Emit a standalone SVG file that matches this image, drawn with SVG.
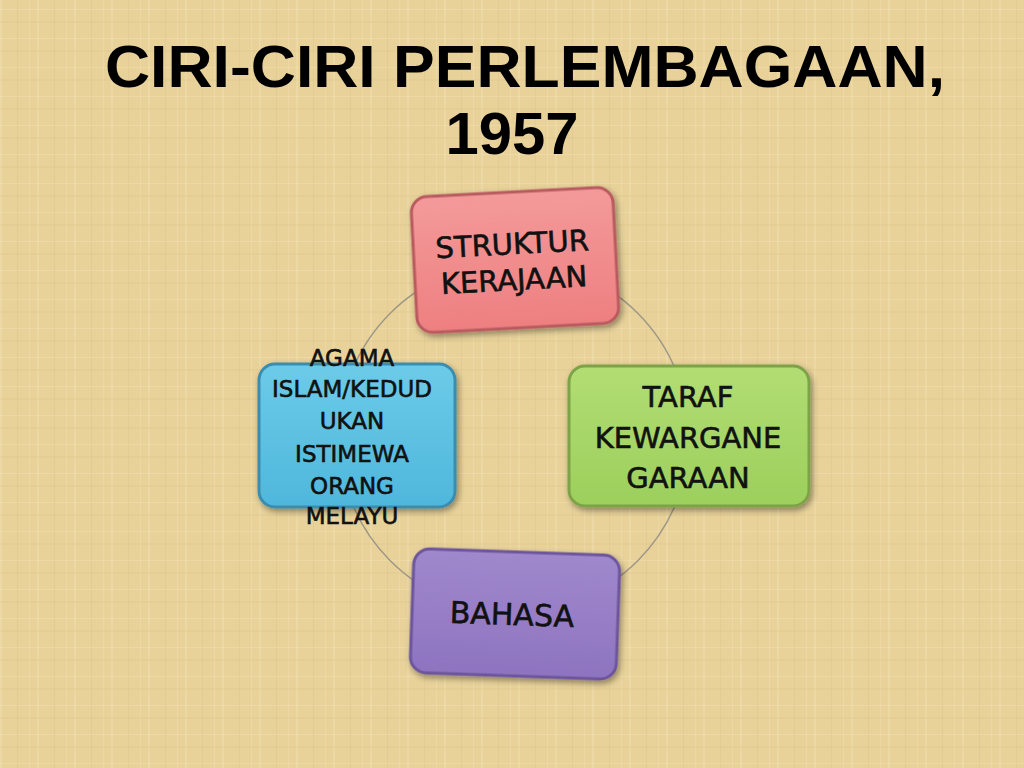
<svg xmlns="http://www.w3.org/2000/svg" width="1024" height="768" viewBox="0 0 1024 768">
<style>
.title{font-family:"Liberation Sans","DejaVu Sans",sans-serif;font-weight:bold;fill:#000}
.lbl{font-family:"DejaVu Sans","Liberation Sans",sans-serif;fill:#111;stroke:#111;stroke-width:0.6;text-anchor:middle}
.box{stroke-width:3}
</style>
<defs>
<pattern id="tex" width="37" height="29" patternUnits="userSpaceOnUse">
<rect width="37" height="29" fill="#E8D29A"/>
<rect x="0" y="0" width="2" height="29" fill="#F0DEAE" opacity="0.5"/>
<rect x="17" y="0" width="1" height="29" fill="#D9C086" opacity="0.35"/>
<rect x="29" y="0" width="1" height="29" fill="#F2E2B4" opacity="0.4"/>
<rect x="0" y="9" width="37" height="1" fill="#F2E2B4" opacity="0.45"/>
<rect x="0" y="21" width="37" height="2" fill="#DCC48A" opacity="0.3"/>
</pattern>
<linearGradient id="gPink" x1="0" y1="0" x2="0" y2="1"><stop offset="0" stop-color="#F49A9A"/><stop offset="1" stop-color="#EE7F80"/></linearGradient>
<linearGradient id="gBlue" x1="0" y1="0" x2="0" y2="1"><stop offset="0" stop-color="#6CCBE8"/><stop offset="1" stop-color="#4FB7DC"/></linearGradient>
<linearGradient id="gGreen" x1="0" y1="0" x2="0" y2="1"><stop offset="0" stop-color="#B2DD74"/><stop offset="1" stop-color="#9CCF5C"/></linearGradient>
<linearGradient id="gPurple" x1="0" y1="0" x2="0" y2="1"><stop offset="0" stop-color="#A088CC"/><stop offset="1" stop-color="#8E74C0"/></linearGradient>
<filter id="sh" x="-10%" y="-10%" width="125%" height="130%"><feDropShadow dx="2" dy="3" stdDeviation="3" flood-color="#000" flood-opacity="0.4"/></filter>
</defs>
<rect width="1024" height="768" fill="url(#tex)"/>
<text class="title" x="525" y="87" font-size="60" text-anchor="middle" textLength="840" lengthAdjust="spacingAndGlyphs">CIRI-CIRI PERLEMBAGAAN,</text>
<text class="title" x="512" y="154" font-size="60" text-anchor="middle" textLength="133" lengthAdjust="spacingAndGlyphs">1957</text>
<g id="connectors">
<circle cx="514" cy="437" r="175" fill="none" stroke="#9E9888" stroke-width="1.5"/>
</g>
<g id="node-struktur" transform="rotate(-3 515 260)">
<rect class="box" x="414" y="192" width="202" height="136" rx="16" fill="url(#gPink)" stroke="#B85A5E" filter="url(#sh)"/>
<text class="lbl" x="513" y="254" font-size="29">STRUKTUR</text>
<text class="lbl" x="513" y="290" font-size="29">KERAJAAN</text>
</g>
<g id="node-agama">
<rect class="box" x="259" y="364" width="196" height="143" rx="16" fill="url(#gBlue)" stroke="#3A8DB0" filter="url(#sh)"/>
<text class="lbl" x="352" y="366" font-size="23">AGAMA</text>
<text class="lbl" x="352" y="397" font-size="23">ISLAM/KEDUD</text>
<text class="lbl" x="352" y="429" font-size="23">UKAN</text>
<text class="lbl" x="352" y="462" font-size="23">ISTIMEWA</text>
<text class="lbl" x="352" y="494" font-size="23">ORANG</text>
<text class="lbl" x="352" y="524" font-size="23">MELAYU</text>
</g>
<g id="node-taraf">
<rect class="box" x="569" y="366" width="240" height="140" rx="16" fill="url(#gGreen)" stroke="#7DA246" filter="url(#sh)"/>
<text class="lbl" x="688" y="407" font-size="29">TARAF</text>
<text class="lbl" x="688" y="448" font-size="29">KEWARGANE</text>
<text class="lbl" x="688" y="488" font-size="29">GARAAN</text>
</g>
<g id="node-bahasa" transform="rotate(2 515 614)">
<rect class="box" x="412" y="552" width="206" height="124" rx="16" fill="url(#gPurple)" stroke="#6C559C" filter="url(#sh)"/>
<text class="lbl" x="512" y="625" font-size="30">BAHASA</text>
</g>
</svg>
